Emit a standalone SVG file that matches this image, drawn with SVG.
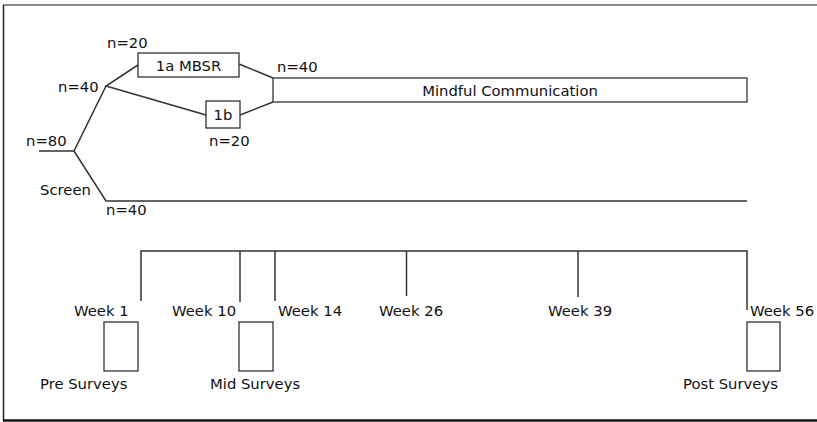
<svg xmlns="http://www.w3.org/2000/svg" width="817" height="422" viewBox="0 0 817 422">
<style>
text{font-family:"DejaVu Sans",Verdana,sans-serif;font-size:14.8px;fill:#111}
.ln{stroke:#333;stroke-width:1.5;fill:none}
.bx{stroke:#333;stroke-width:1.3;fill:#fff}
.m{text-anchor:middle}
</style>
<rect width="817" height="422" fill="#fff"/>
<g id="frame">
<line x1="3" y1="5" x2="817" y2="5" stroke="#666" stroke-width="1.5"/>
<line x1="3.5" y1="5" x2="3.5" y2="421" stroke="#222" stroke-width="1.5"/>
<line x1="3" y1="420.5" x2="817" y2="420.5" stroke="#111" stroke-width="2.5"/>
</g>
<g id="connectors" class="ln">
<polyline points="39,151 74,151 106,86 138,65"/>
<line x1="106" y1="86" x2="206" y2="115"/>
<polyline points="74,151 106,201 747,201"/>
<polyline points="239,64 273,78"/>
<polyline points="240,115 273,102"/>
<polyline points="141,301 141,251 747,251 747,310"/>
<line x1="240" y1="251" x2="240" y2="302"/>
<line x1="275" y1="251" x2="275" y2="301"/>
<line x1="406.5" y1="251" x2="406.5" y2="296"/>
<line x1="578" y1="251" x2="578" y2="297"/>
</g>
<g id="labels">
<text x="26" y="146">n=80</text>
<text x="58" y="92">n=40</text>
<text x="107" y="48">n=20</text>
<text x="209" y="146">n=20</text>
<text x="277" y="72">n=40</text>
<text x="40" y="195">Screen</text>
<text x="106" y="215">n=40</text>
</g>
<g id="node-1a"><rect class="bx" x="138" y="53" width="101" height="24"/><text class="m" x="188.5" y="71">1a MBSR</text></g>
<g id="node-1b"><rect class="bx" x="206" y="101" width="34" height="27"/><text class="m" x="223" y="120">1b</text></g>
<g id="node-mindful"><rect class="bx" x="273" y="78" width="474" height="24"/><text class="m" x="510" y="96">Mindful Communication</text></g>
<g id="weeks">
<text x="74" y="316">Week 1</text>
<text x="172" y="316">Week 10</text>
<text x="278" y="316">Week 14</text>
<text x="379" y="316">Week 26</text>
<text x="548" y="316">Week 39</text>
<text x="750" y="316">Week 56</text>
</g>
<g id="node-pre"><rect class="bx" x="104" y="322" width="34" height="49"/><text x="40" y="389">Pre Surveys</text></g>
<g id="node-mid"><rect class="bx" x="239" y="322" width="34" height="49"/><text x="210" y="389">Mid Surveys</text></g>
<g id="node-post"><rect class="bx" x="747" y="322" width="33" height="49"/><text x="683" y="389">Post Surveys</text></g>
</svg>
